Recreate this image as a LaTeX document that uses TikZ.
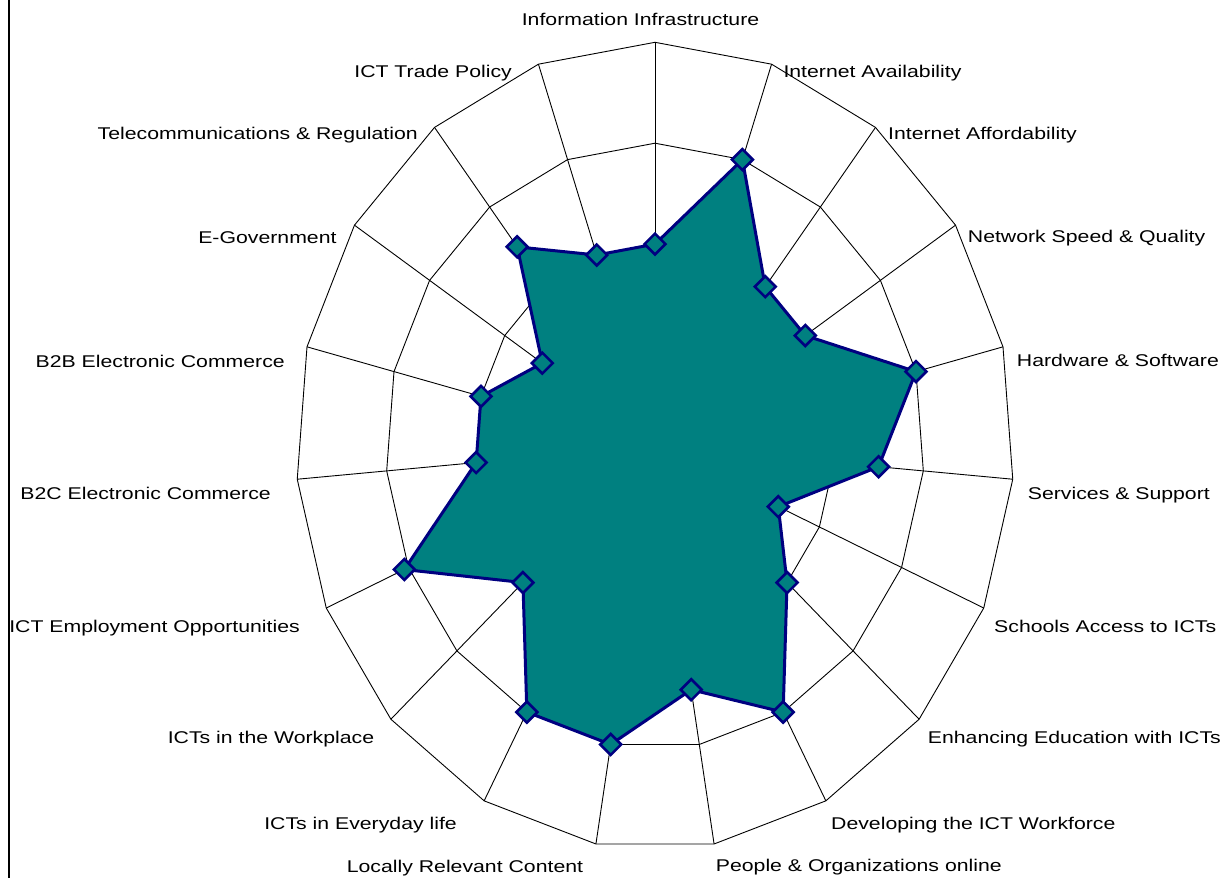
\documentclass[tikz,border=0pt]{standalone}
\usepackage{fontspec}
\setmainfont{Liberation Sans}[FakeStretch=1.25]
\usetikzlibrary{shapes.geometric}

\definecolor{chartnavy}{RGB}{0,0,128}
\definecolor{chartteal}{RGB}{0,128,128}

% centre and radii of the radar grid
\def\cx{655}
\def\cy{445.9}
\def\rx{359}
\def\ry{403.6}

\begin{document}
\begin{tikzpicture}[x=1pt,y=-1pt,
    grid/.style={black,line width=0.9pt},
    datapoly/.style={fill=chartteal,draw=chartnavy,line width=3pt},
    marker/.style={diamond,draw=chartnavy,fill=chartteal,line width=2.6pt,
      inner sep=0pt,minimum size=22pt},
    axislabel/.style={font=\fontsize{17}{20}\selectfont,inner sep=0pt}]
    \useasboundingbox (0,0) rectangle (1227,878);
    \coordinate (c) at (\cx,\cy);

    % frame edge
    \draw[line width=2.4pt] (9,0) -- (9,878);

    % rings and spokes
    \foreach \r in {0.25,0.5,0.75,1}
        \draw[grid] plot[samples at={0,...,18}]
            ({\cx+\rx*\r*sin(\x*360/19)},{\cy-\ry*\r*cos(\x*360/19)}) -- cycle;
    \foreach \k in {0,...,18} {
        \coordinate (v\k) at ({\cx+\rx*sin(\k*360/19)},{\cy-\ry*cos(\k*360/19)});
        \draw[grid] (c) -- (v\k);
    }

    % scores, scale 0..8
    \foreach \k/\val in {0/4,1/6,2/4,3/4,4/6,5/5,6/3,7/4,8/6,9/4.9,
                         10/6,11/6,12/4,13/6.1,14/4,15/4,16/3,17/5,18/4}
        \coordinate (p\k) at ({\cx+\rx*\val/8*sin(\k*360/19)},{\cy-\ry*\val/8*cos(\k*360/19)});

    \filldraw[datapoly] (p0) -- (p1) -- (p2) -- (p3) -- (p4) -- (p5) -- (p6)
        -- (p7) -- (p8) -- (p9) -- (p10) -- (p11) -- (p12) -- (p13) -- (p14)
        -- (p15) -- (p16) -- (p17) -- (p18) -- cycle;
    \foreach \k in {0,...,18}
        \node[marker] (m\k) at (p\k) {};

    % axis labels
    \node[axislabel,anchor=base] (l0) at (640.5,25) {Information Infrastructure};
    \foreach \k/\x/\y/\txt in {1/783.3/77.5/Internet Availability,
                               2/888/139.5/Internet Affordability,
                               3/967.7/242.5/Network Speed \& Quality,
                               4/1016.7/366.5/Hardware \& Software,
                               5/1027.7/499/Services \& Support,
                               6/994/632.5/Schools Access to ICTs,
                               7/927.7/743/Enhancing Education with ICTs,
                               8/831/829.5/Developing the ICT Workforce,
                               9/715.7/871/People \& Organizations online}
        \node[axislabel,anchor=base west] (l\k) at (\x,\y) {\txt};
    \foreach \k/\x/\y/\txt in {10/583.3/872/Locally Relevant Content,
                               11/457/829.5/ICTs in Everyday life,
                               12/374.3/743/ICTs in the Workplace,
                               13/300/632.5/ICT Employment Opportunities,
                               14/271/499/B2C Electronic Commerce,
                               15/285/367.5/B2B Electronic Commerce,
                               16/336.7/243/E-Government,
                               17/418/139.5/Telecommunications \& Regulation,
                               18/512/77.5/ICT Trade Policy}
        \node[axislabel,anchor=base east] (l\k) at (\x,\y) {\txt};
\end{tikzpicture}
\end{document}
